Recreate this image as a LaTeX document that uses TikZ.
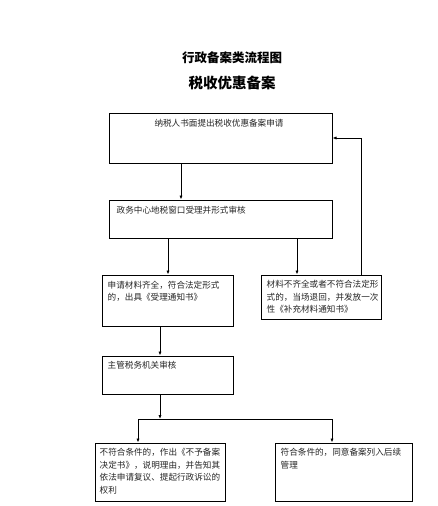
\documentclass[tikz,border=0pt]{standalone}
\usepackage{fontspec}
\newfontfamily\cjk{Noto Sans CJK SC}
\usetikzlibrary{arrows.meta,calc}
\begin{document}
\begin{tikzpicture}[x=1pt,y=1pt,
  box/.style={draw=black,line width=1pt,rectangle,inner sep=0pt},
  txt/.style={inner sep=0pt,anchor=north west,align=left,font=\cjk\fontsize{8.6}{12.6}\selectfont,text=black!85},
  conn/.style={draw=black,line width=0.8pt},
  arr/.style={conn,-{Latex[length=4pt,width=3.2pt]}},
  ttl/.style={inner sep=0pt,font=\cjk\bfseries}]
\useasboundingbox (0,0) rectangle (438,-506);
\fill[white] (0,0) rectangle (438,-506);
% titles
\node[ttl,font=\cjk\bfseries\fontsize{12.5}{14}\selectfont] (t1) at (232,-58) {行政备案类流程图};
\node[ttl,font=\cjk\bfseries\fontsize{14.5}{16}\selectfont] (t2) at (232,-83) {税收优惠备案};
% boxes
\node[box,minimum width=223,minimum height=50] (b1) at (220.5,-138) {};
\node[box,minimum width=223,minimum height=38] (b2) at (220.5,-219) {};
\node[box,minimum width=131,minimum height=51] (b3) at (167.5,-300.5) {};
\node[box,minimum width=120,minimum height=44] (b4) at (321,-297) {};
\node[box,minimum width=131,minimum height=38] (b5) at (167.5,-375) {};
\node[box,minimum width=130,minimum height=58] (b6) at (160,-472) {};
\node[box,minimum width=137,minimum height=58] (b7) at (343.5,-472) {};
% texts
\node[txt,anchor=center] (x1) at (219,-123) {纳税人书面提出税收优惠备案申请};
\node[txt] (x2) at ($(b2.north west)+(8,-6.5)$) {政务中心地税窗口受理并形式审核};
\node[txt] (x3) at ($(b3.north west)+(6,-6)$) {申请材料齐全，符合法定形式\\的，出具《受理通知书》};
\node[txt] (x4) at ($(b4.north west)+(6,-5.5)$) {材料不齐全或者不符合法定形\\式的，当场退回，并发放一次\\性《补充材料通知书》};
\node[txt] (x5) at ($(b5.north west)+(6,-5.5)$) {主管税务机关审核};
\node[txt] (x6) at ($(b6.north west)+(5,-5.5)$) {不符合条件的，作出《不予备案\\决定书》，说明理由，并告知其\\依法申请复议、提起行政诉讼的\\权利};
\node[txt] (x7) at ($(b7.north west)+(6,-5.5)$) {符合条件的，同意备案列入后续\\管理};
% connectors
\draw[arr] (b1.south -| 181,0) -- (b2.north -| 181,0);
\draw[arr] (b2.south -| 168,0) -- (b3.north -| 168,0);
\draw[arr] (b2.south -| 297,0) -- (b4.north -| 297,0);
\draw[arr] (b4.north -| 361,0) |- (b1.east);
\draw[arr] (b3.south -| 160,0) -- (b5.north -| 160,0);
\coordinate (j) at (160,-419);
\coordinate (jl) at (138,-419);
\coordinate (jr) at (332,-419);
\draw[arr] (b5.south -| j) -- (j);
\draw[conn] (jl) -- (jr);
\draw[arr] (jl) -- (b6.north -| jl);
\draw[arr] (jr) -- (b7.north -| jr);
\end{tikzpicture}
\end{document}
